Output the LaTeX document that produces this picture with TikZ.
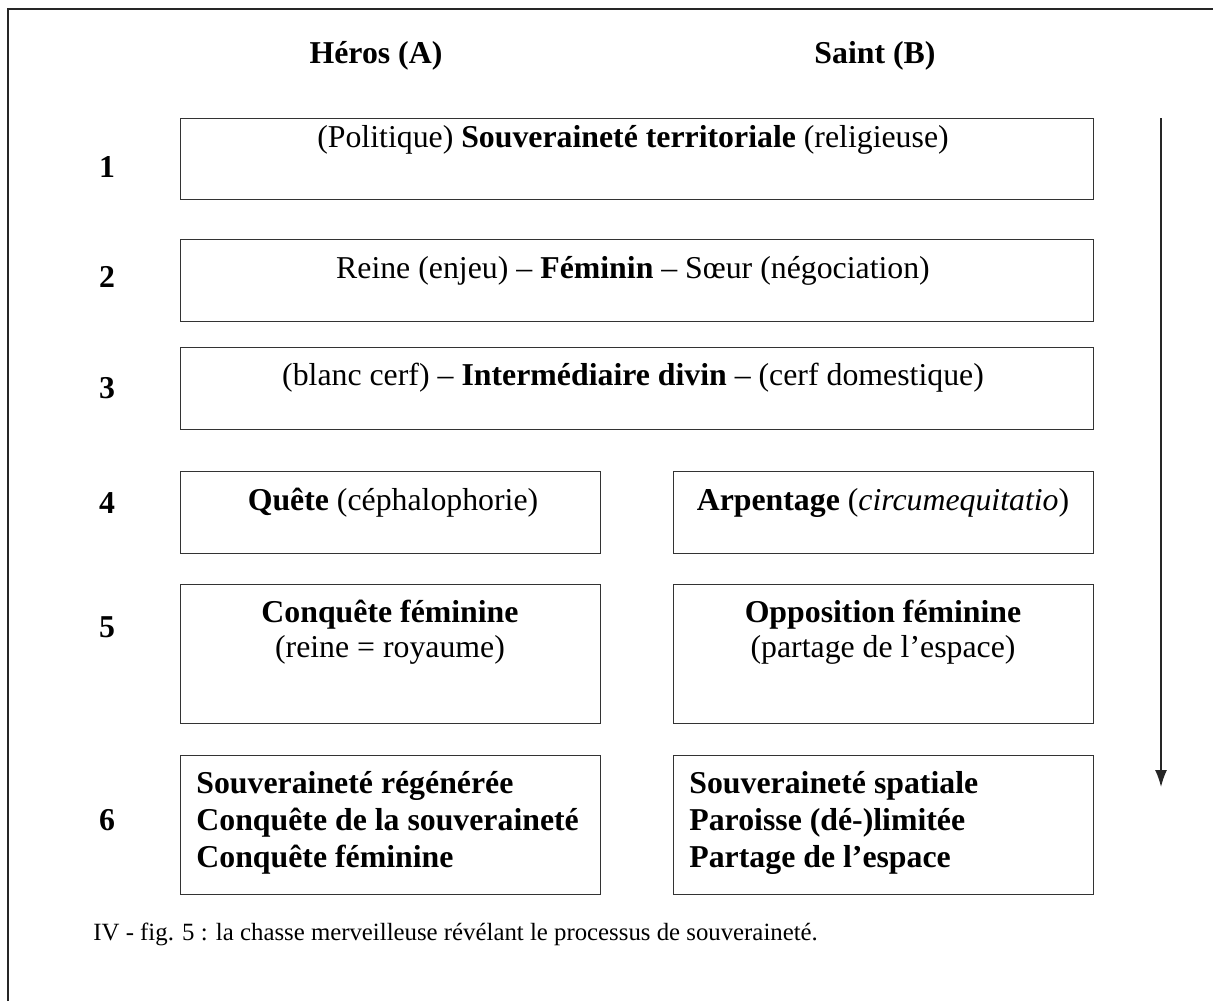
\documentclass[tikz,border=0pt]{standalone}
\usepackage{fontspec}
\setmainfont{Liberation Serif}
\usetikzlibrary{arrows.meta}
\tikzset{
  >={Latex[length=8.5pt,width=6pt]},
}
\tikzstyle{cell}=[draw=black!80,line width=0.5pt,inner sep=0pt,minimum height=40.75pt]
\tikzstyle{wide}=[cell,minimum width=456.5pt]
\tikzstyle{half}=[cell,minimum width=210pt]
\tikzstyle{tall}=[half,minimum height=69.5pt]
\tikzstyle{every node}=[font=\fontsize{15.9}{18.5}\selectfont]
\tikzstyle{txt}=[anchor=base,inner sep=0pt]
\tikzstyle{num}=[txt,font=\fontsize{15.9}{18.5}\selectfont\bfseries]
\tikzstyle{item}=[anchor=base west,inner sep=0pt,font=\fontsize{15.9}{18.5}\selectfont\bfseries]

\begin{document}
\begin{tikzpicture}[x=0.5pt,y=-0.5pt]
    \useasboundingbox (0,0) rectangle (1213,1001);
    \draw[line width=1pt,black!85] (8,1001) |- (1213,9);
    % column heads
    \node[num] (hA) at (376,63) {Héros (A)};
    \node[num] (hB) at (875,63) {Saint (B)};
    % rows
    \node[num] (n1) at (107,177) {1};
    \node[num] (n2) at (107,287) {2};
    \node[num] (n3) at (107,398) {3};
    \node[num] (n4) at (107,513) {4};
    \node[num] (n5) at (107,637) {5};
    \node[num] (n6) at (107,830) {6};
    % boxes
    \node[wide] (r1) at (636.5,159) {};
    \node[wide] (r2) at (636.5,280.5) {};
    \node[wide] (r3) at (636.5,388.5) {};
    \node[half] (r4a) at (390,512.5) {};
    \node[half] (r4b) at (883,512.5) {};
    \node[tall] (r5a) at (390,653.5) {};
    \node[tall] (r5b) at (883,653.5) {};
    \node[tall] (r6a) at (390,824.5) {};
    \node[tall] (r6b) at (883,824.5) {};
    % texts
    \node[txt] (t1) at (633,147) {(Politique) \textbf{Souveraineté territoriale} (religieuse)};
    \node[txt] (t2) at (633,278) {Reine (enjeu) -- \textbf{Féminin} -- Sœur (négociation)};
    \node[txt] (t3) at (633,385) {(blanc cerf) -- \textbf{Intermédiaire divin} -- (cerf domestique)};
    \node[txt] (t4a) at (393,510) {\textbf{Quête} (céphalophorie)};
    \node[txt] (t4b) at (883,510) {\textbf{Arpentage} (\textit{circumequitatio})};
    \node[txt] (t5a) at (390,622) {\textbf{Conquête féminine}};
    \node[txt] (t5a2) at (390,657) {(reine = royaume)};
    \node[txt] (t5b) at (883,622) {\textbf{Opposition féminine}};
    \node[txt] (t5b2) at (883,657) {(partage de l’espace)};
    \node[item] (t6a1) at (196,793) {Souveraineté régénérée};
    \node[item] (t6a2) at (196,830) {Conquête de la souveraineté};
    \node[item] (t6a3) at (196,867) {Conquête féminine};
    \node[item] (t6b1) at (689,793) {Souveraineté spatiale};
    \node[item] (t6b2) at (689,830) {Paroisse (dé-)limitée};
    \node[item] (t6b3) at (689,867) {Partage de l’espace};
    % time arrow
    \coordinate (up) at (1161,118);
    \coordinate (down) at (1161,787);
    \draw[->,line width=0.75pt,black!85] (up) -- (down);
    % caption
    \node[txt,anchor=base west,font=\fontsize{12.4}{15}\selectfont] (cap) at (93,940) {IV - fig. 5 : la chasse merveilleuse révélant le processus de souveraineté.};
\end{tikzpicture}
\end{document}
